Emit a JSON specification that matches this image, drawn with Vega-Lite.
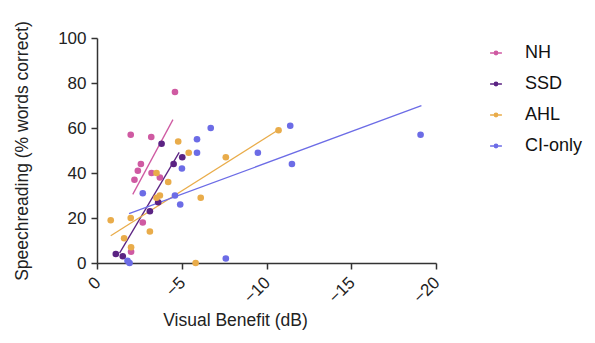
{
  "$schema": "https://vega.github.io/schema/vega-lite/v6.json",
  "width": 339,
  "height": 225,
  "autosize": "none",
  "padding": {"left": 97, "top": 38, "right": 159, "bottom": 80},
  "background": "white",
  "config": {
    "view": {"stroke": null},
    "font": "Liberation Sans",
    "axis": {
      "grid": false,
      "domainColor": "#333",
      "domainWidth": 1.5,
      "tickColor": "#333",
      "tickWidth": 1.5,
      "tickSize": 6,
      "labelFont": "Liberation Sans",
      "labelFontSize": 17,
      "labelColor": "#222",
      "titleFont": "Liberation Sans",
      "titleFontSize": 17.5,
      "titleFontWeight": "normal",
      "titleColor": "#222"
    }
  },
  "datasets": {
    "pts": [
      {"x": -4.60, "y": 76, "group": "NH"},
      {"x": -1.99, "y": 57, "group": "NH"},
      {"x": -3.20, "y": 56, "group": "NH"},
      {"x": -2.59, "y": 44, "group": "NH"},
      {"x": -2.41, "y": 41, "group": "NH"},
      {"x": -2.21, "y": 37, "group": "NH"},
      {"x": -3.22, "y": 40, "group": "NH"},
      {"x": -3.71, "y": 38, "group": "NH"},
      {"x": -2.70, "y": 18, "group": "NH"},
      {"x": -2.01, "y": 5, "group": "NH"},
      {"x": -3.81, "y": 53, "group": "SSD"},
      {"x": -5.03, "y": 47, "group": "SSD"},
      {"x": -4.52, "y": 44, "group": "SSD"},
      {"x": -3.61, "y": 27, "group": "SSD"},
      {"x": -3.12, "y": 23, "group": "SSD"},
      {"x": -1.11, "y": 4, "group": "SSD"},
      {"x": -1.52, "y": 3, "group": "SSD"},
      {"x": -4.79, "y": 54, "group": "AHL"},
      {"x": -5.41, "y": 49, "group": "AHL"},
      {"x": -4.20, "y": 36, "group": "AHL"},
      {"x": -3.51, "y": 40, "group": "AHL"},
      {"x": -3.71, "y": 30, "group": "AHL"},
      {"x": -3.51, "y": 29, "group": "AHL"},
      {"x": -6.12, "y": 29, "group": "AHL"},
      {"x": -7.60, "y": 47, "group": "AHL"},
      {"x": -1.99, "y": 20, "group": "AHL"},
      {"x": -0.81, "y": 19, "group": "AHL"},
      {"x": -3.12, "y": 14, "group": "AHL"},
      {"x": -1.60, "y": 11, "group": "AHL"},
      {"x": -2.01, "y": 7, "group": "AHL"},
      {"x": -5.82, "y": 0, "group": "AHL"},
      {"x": -10.71, "y": 59, "group": "AHL"},
      {"x": -6.71, "y": 60, "group": "CI-only"},
      {"x": -5.90, "y": 55, "group": "CI-only"},
      {"x": -5.90, "y": 49, "group": "CI-only"},
      {"x": -5.01, "y": 42, "group": "CI-only"},
      {"x": -2.70, "y": 31, "group": "CI-only"},
      {"x": -4.60, "y": 30, "group": "CI-only"},
      {"x": -4.91, "y": 26, "group": "CI-only"},
      {"x": -7.60, "y": 2, "group": "CI-only"},
      {"x": -1.80, "y": 1, "group": "CI-only"},
      {"x": -1.92, "y": 0, "group": "CI-only"},
      {"x": -9.49, "y": 49, "group": "CI-only"},
      {"x": -11.40, "y": 61, "group": "CI-only"},
      {"x": -11.50, "y": 44, "group": "CI-only"},
      {"x": -19.09, "y": 57, "group": "CI-only"}
    ],
    "fits": [
      {"x": -2.11, "y": 30.5, "group": "NH"},
      {"x": -4.48, "y": 63.7, "group": "NH"},
      {"x": -1.33, "y": 4.4, "group": "SSD"},
      {"x": -4.85, "y": 49.2, "group": "SSD"},
      {"x": -0.81, "y": 12.1, "group": "AHL"},
      {"x": -10.71, "y": 59.2, "group": "AHL"},
      {"x": -1.89, "y": 21.9, "group": "CI-only"},
      {"x": -19.14, "y": 69.9, "group": "CI-only"}
    ]
  },
  "encoding": {
    "x": {
      "field": "x", "type": "quantitative",
      "scale": {"domain": [0, -20], "nice": false},
      "axis": {
        "title": "Visual Benefit (dB)",
        "values": [0, -5, -10, -15, -20],
        "labelAngle": -45,
        "labelOffset": -5,
        "labelPadding": 5,
        "titleX": 138,
        "titleY": 62,
        "titleBaseline": "alphabetic"
      }
    },
    "y": {
      "field": "y", "type": "quantitative",
      "scale": {"domain": [0, 100], "nice": false},
      "axis": {
        "title": "Speechreading (% words correct)",
        "values": [0, 20, 40, 60, 80, 100],
        "labelPadding": 5,
        "titlePadding": 26
      }
    },
    "color": {
      "field": "group", "type": "nominal",
      "scale": {
        "domain": ["NH", "SSD", "AHL", "CI-only"],
        "range": ["#cf5aa2", "#5b2383", "#e9ac4a", "#6c6ce6"]
      },
      "legend": {
        "title": null,
        "orient": "none",
        "legendX": 390,
        "legendY": 6,
        "padding": 0,
        "symbolType": "M-1,0L1,0M-0.28,0A0.28,0.28,0,1,0,0.28,0A0.28,0.28,0,1,0,-0.28,0Z",
        "symbolSize": 140,
        "symbolStrokeWidth": 1.5,
        "labelFont": "Liberation Sans",
        "labelFontSize": 18,
        "labelColor": "#111",
        "labelOffset": 20,
        "rowPadding": 13,
        "encode": {
          "symbols": {
            "update": {
              "stroke": {"scale": "color", "field": "value"},
              "fill": {"scale": "color", "field": "value"},
              "opacity": {"value": 1}
            }
          }
        }
      }
    }
  },
  "layer": [
    {
      "data": {"name": "fits"},
      "mark": {"type": "line", "strokeWidth": 1.3},
      "encoding": {"detail": {"field": "group"}}
    },
    {
      "data": {"name": "pts"},
      "mark": {"type": "point", "filled": true, "opacity": 1, "size": 44}
    }
  ]
}
